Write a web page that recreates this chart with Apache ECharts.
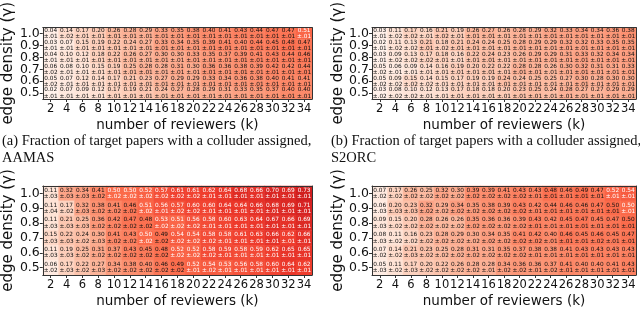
<!DOCTYPE html>
<html>
<head>
<meta charset="utf-8">
<script src="https://cdn.jsdelivr.net/npm/echarts@6/dist/echarts.min.js"></script>
<style>
html,body{margin:0;padding:0;background:#fff;}
#chart{width:640px;height:309px;}
</style>
</head>
<body>
<div id="chart"></div>
<script>
// Tick labels
const kLabels = ['2','4','6','8','10','12','14','16','18','20','22','24','26','28','30','32','34'];
const gammaLabels = ['0.5','0.6','0.7','0.8','0.9','1.0'];
// Rows are listed from gamma = 1.0 (top) down to gamma = 0.5 (bottom)

// (a) AAMAS, target papers with a colluder assigned
const aamasTargetMean = [
  [0.04,0.14,0.17,0.20,0.26,0.28,0.29,0.33,0.35,0.38,0.40,0.41,0.43,0.44,0.47,0.47,0.51],
  [0.03,0.07,0.15,0.19,0.22,0.24,0.27,0.33,0.34,0.35,0.39,0.41,0.40,0.44,0.45,0.48,0.47],
  [0.04,0.10,0.12,0.18,0.22,0.26,0.27,0.30,0.30,0.33,0.35,0.37,0.39,0.41,0.43,0.44,0.46],
  [0.06,0.08,0.10,0.15,0.19,0.25,0.28,0.28,0.31,0.30,0.36,0.36,0.38,0.39,0.42,0.42,0.44],
  [0.05,0.07,0.12,0.14,0.17,0.21,0.23,0.27,0.29,0.29,0.33,0.34,0.36,0.38,0.40,0.41,0.41],
  [0.02,0.07,0.09,0.12,0.17,0.19,0.21,0.24,0.27,0.28,0.29,0.31,0.33,0.35,0.37,0.40,0.40]
];
const aamasTargetErr = [
  [0.01,0.02,0.01,0.01,0.01,0.01,0.01,0.01,0.01,0.01,0.01,0.01,0.01,0.01,0.01,0.01,0.01],
  [0.01,0.01,0.01,0.01,0.01,0.01,0.01,0.01,0.01,0.01,0.01,0.01,0.01,0.01,0.01,0.01,0.01],
  [0.01,0.01,0.01,0.01,0.01,0.01,0.01,0.01,0.01,0.01,0.01,0.01,0.01,0.01,0.01,0.01,0.01],
  [0.02,0.01,0.01,0.01,0.01,0.01,0.01,0.01,0.01,0.01,0.01,0.01,0.01,0.01,0.01,0.01,0.01],
  [0.02,0.01,0.01,0.01,0.01,0.01,0.01,0.01,0.01,0.01,0.01,0.01,0.01,0.01,0.01,0.01,0.01],
  [0.01,0.01,0.01,0.01,0.01,0.01,0.01,0.01,0.01,0.01,0.01,0.01,0.01,0.01,0.01,0.01,0.01]
];

// (b) S2ORC, target papers with a colluder assigned
const s2orcTargetMean = [
  [0.03,0.11,0.17,0.16,0.21,0.19,0.26,0.27,0.26,0.28,0.29,0.32,0.33,0.34,0.34,0.36,0.38],
  [0.02,0.11,0.13,0.21,0.18,0.21,0.24,0.24,0.25,0.28,0.29,0.29,0.32,0.32,0.33,0.35,0.35],
  [0.03,0.09,0.13,0.17,0.18,0.16,0.22,0.24,0.23,0.26,0.29,0.29,0.31,0.33,0.32,0.34,0.34],
  [0.05,0.06,0.09,0.14,0.16,0.19,0.20,0.22,0.22,0.28,0.28,0.26,0.30,0.32,0.31,0.31,0.33],
  [0.05,0.09,0.15,0.14,0.15,0.17,0.19,0.19,0.24,0.24,0.25,0.25,0.27,0.30,0.28,0.30,0.30],
  [0.03,0.08,0.10,0.12,0.13,0.17,0.18,0.18,0.20,0.23,0.25,0.24,0.28,0.27,0.27,0.29,0.29]
];
const s2orcTargetErr = [
  [0.01,0.02,0.02,0.01,0.02,0.01,0.01,0.01,0.01,0.01,0.01,0.01,0.01,0.01,0.01,0.01,0.01],
  [0.01,0.02,0.02,0.01,0.02,0.01,0.01,0.01,0.01,0.01,0.01,0.01,0.01,0.01,0.01,0.01,0.01],
  [0.01,0.02,0.02,0.02,0.01,0.01,0.01,0.01,0.01,0.01,0.01,0.01,0.01,0.01,0.01,0.01,0.01],
  [0.02,0.01,0.01,0.01,0.01,0.01,0.01,0.01,0.01,0.01,0.01,0.01,0.01,0.01,0.01,0.01,0.01],
  [0.02,0.02,0.02,0.02,0.01,0.01,0.01,0.01,0.01,0.01,0.01,0.01,0.01,0.01,0.01,0.01,0.01],
  [0.02,0.02,0.02,0.01,0.01,0.01,0.01,0.01,0.01,0.01,0.01,0.01,0.01,0.01,0.01,0.01,0.01]
];

// (c) AAMAS, second measure
const aamasSecondMean = [
  [0.11,0.32,0.34,0.41,0.50,0.50,0.52,0.57,0.61,0.61,0.62,0.64,0.68,0.66,0.70,0.69,0.73],
  [0.11,0.17,0.32,0.38,0.41,0.46,0.51,0.56,0.57,0.60,0.60,0.64,0.64,0.66,0.68,0.69,0.71],
  [0.11,0.21,0.25,0.36,0.42,0.47,0.48,0.53,0.51,0.56,0.58,0.60,0.63,0.64,0.67,0.66,0.69],
  [0.15,0.22,0.24,0.30,0.41,0.43,0.50,0.49,0.54,0.54,0.58,0.58,0.61,0.63,0.66,0.62,0.66],
  [0.11,0.19,0.25,0.31,0.37,0.43,0.45,0.48,0.52,0.52,0.58,0.59,0.58,0.59,0.62,0.65,0.65],
  [0.06,0.17,0.22,0.27,0.34,0.38,0.40,0.46,0.49,0.52,0.54,0.53,0.56,0.58,0.60,0.64,0.62]
];
const aamasSecondErr = [
  [0.03,0.03,0.03,0.02,0.02,0.02,0.02,0.02,0.02,0.02,0.01,0.01,0.01,0.01,0.01,0.01,0.01],
  [0.04,0.02,0.03,0.02,0.02,0.02,0.02,0.01,0.02,0.02,0.01,0.01,0.01,0.01,0.01,0.01,0.01],
  [0.03,0.03,0.03,0.02,0.02,0.02,0.02,0.02,0.02,0.02,0.01,0.01,0.01,0.01,0.01,0.01,0.01],
  [0.03,0.03,0.02,0.03,0.02,0.02,0.02,0.02,0.02,0.02,0.02,0.01,0.01,0.01,0.01,0.01,0.01],
  [0.03,0.03,0.02,0.02,0.02,0.02,0.02,0.02,0.02,0.02,0.02,0.01,0.01,0.01,0.01,0.01,0.01],
  [0.02,0.03,0.02,0.03,0.02,0.02,0.02,0.02,0.02,0.01,0.02,0.01,0.01,0.01,0.01,0.01,0.01]
];

// (d) S2ORC, second measure
const s2orcSecondMean = [
  [0.07,0.17,0.26,0.25,0.32,0.30,0.39,0.39,0.41,0.43,0.43,0.48,0.46,0.49,0.47,0.52,0.54],
  [0.06,0.20,0.23,0.32,0.29,0.34,0.35,0.38,0.39,0.43,0.42,0.44,0.46,0.46,0.47,0.497,0.503],
  [0.09,0.15,0.20,0.28,0.26,0.26,0.35,0.36,0.36,0.39,0.43,0.42,0.45,0.47,0.45,0.47,0.497],
  [0.08,0.11,0.16,0.23,0.28,0.29,0.30,0.34,0.35,0.41,0.42,0.40,0.46,0.45,0.46,0.45,0.47],
  [0.07,0.14,0.21,0.23,0.25,0.28,0.31,0.31,0.35,0.37,0.38,0.38,0.41,0.43,0.43,0.43,0.43],
  [0.05,0.11,0.17,0.20,0.22,0.26,0.28,0.28,0.34,0.36,0.36,0.37,0.41,0.40,0.40,0.41,0.43]
];
const s2orcSecondErr = [
  [0.02,0.02,0.02,0.02,0.02,0.02,0.02,0.02,0.02,0.02,0.01,0.01,0.01,0.01,0.01,0.01,0.01],
  [0.03,0.03,0.03,0.02,0.02,0.02,0.02,0.02,0.02,0.02,0.01,0.01,0.01,0.01,0.01,0.01,0.01],
  [0.03,0.02,0.02,0.02,0.02,0.02,0.02,0.02,0.02,0.02,0.01,0.01,0.01,0.01,0.01,0.01,0.01],
  [0.03,0.02,0.02,0.02,0.02,0.02,0.02,0.02,0.02,0.02,0.02,0.01,0.01,0.01,0.02,0.01,0.01],
  [0.02,0.02,0.03,0.02,0.02,0.02,0.02,0.02,0.02,0.02,0.01,0.01,0.01,0.01,0.01,0.01,0.01],
  [0.03,0.02,0.03,0.02,0.02,0.02,0.02,0.01,0.02,0.02,0.01,0.02,0.01,0.01,0.01,0.01,0.01]
];

const captionA = '(a) Fraction of target papers with a colluder assigned,\nAAMAS';
const captionB = '(b) Fraction of target papers with a colluder assigned,\nS2ORC';
const xTitle = 'number of reviewers (k)';
const yTitle = 'edge density (\u03b3)';

const panels = [
  {mean: aamasTargetMean, err: aamasTargetErr},
  {mean: s2orcTargetMean, err: s2orcTargetErr},
  {mean: aamasSecondMean, err: aamasSecondErr},
  {mean: s2orcSecondMean, err: s2orcSecondErr}
];

const grids = [
  {left: 41, top: 6, width: 271, height: 93},
  {left: 372, top: 6, width: 264, height: 93},
  {left: 41, top: 186, width: 271, height: 94},
  {left: 372, top: 186, width: 264, height: 94}
];

const SANS = 'DejaVu Sans';
const xAxes = [], yAxes = [], series = [];
panels.forEach((p, i) => {
  xAxes.push({
    type: 'category', gridIndex: i, data: kLabels, position: 'bottom', z: 10,
    axisLine: {show: true, lineStyle: {color: '#333', width: 1}},
    axisTick: {show: true, alignWithLabel: true, length: 3, lineStyle: {color: '#333'}},
    axisLabel: {color: '#111', fontFamily: SANS, fontSize: 11.5, margin: 4, interval: 0},
    splitLine: {show: false},
    name: xTitle, nameLocation: 'middle', nameGap: 19,
    nameTextStyle: {color: '#111', fontFamily: SANS, fontSize: 13.5}
  });
  xAxes.push({
    type: 'category', gridIndex: i, data: kLabels, position: 'top', z: 10,
    axisLine: {show: true, lineStyle: {color: '#333', width: 1}},
    axisTick: {show: false}, axisLabel: {show: false}, splitLine: {show: false}
  });
  yAxes.push({
    type: 'category', gridIndex: i, data: gammaLabels, position: 'left', z: 10,
    axisLine: {show: true, lineStyle: {color: '#333', width: 1}},
    axisTick: {show: true, alignWithLabel: true, length: 3, lineStyle: {color: '#333'}},
    axisLabel: {color: '#111', fontFamily: SANS, fontSize: 12.5, margin: 3, interval: 0},
    splitLine: {show: false},
    name: yTitle, nameLocation: 'middle', nameGap: 21, nameRotate: 90,
    nameTextStyle: {color: '#111', fontFamily: SANS, fontSize: 15}
  });
  yAxes.push({
    type: 'category', gridIndex: i, data: gammaLabels, position: 'right', z: 10,
    axisLine: {show: true, lineStyle: {color: '#333', width: 1}},
    axisTick: {show: false}, axisLabel: {show: false}, splitLine: {show: false}
  });
  const data = [];
  const nRows = p.mean.length;
  p.mean.forEach((row, r) => {
    row.forEach((v, c) => {
      data.push([c, nRows - 1 - r, v, p.err[r][c]]);
    });
  });
  series.push({
    type: 'heatmap',
    xAxisIndex: i * 2, yAxisIndex: i * 2,
    data: data,
    itemStyle: {borderWidth: 0},
    emphasis: {disabled: true},
    label: {
      show: true,
      fontFamily: SANS, fontSize: 5.8, lineHeight: 6.3,
      formatter: (prm) => {
        const v = prm.data[2], e = prm.data[3];
        const tag = v >= 0.5 ? 'w' : 'k';
        return '{' + tag + '|' + v.toFixed(2) + '}\n{' + tag + '|\u00b1' + e.toFixed(2).slice(1) + '}';
      },
      rich: {
        w: {color: '#ffffff', fontFamily: SANS, fontSize: 5.8, lineHeight: 6.3},
        k: {color: '#111111', fontFamily: SANS, fontSize: 5.8, lineHeight: 6.3}
      }
    }
  });
});

const chart = echarts.init(document.getElementById('chart'), null, {renderer: 'canvas'});
chart.setOption({
  backgroundColor: '#ffffff',
  animation: false,
  title: [
    {text: captionA, left: 2, top: 133, padding: 0,
     textStyle: {fontFamily: 'Liberation Serif', fontWeight: 'normal', fontSize: 14.5, lineHeight: 17, color: '#111'}},
    {text: captionB, left: 331, top: 133, padding: 0,
     textStyle: {fontFamily: 'Liberation Serif', fontWeight: 'normal', fontSize: 14.5, lineHeight: 17, color: '#111'}}
  ],
  grid: grids,
  xAxis: xAxes,
  yAxis: yAxes,
  visualMap: {
    show: false, type: 'continuous', min: 0, max: 1, dimension: 2,
    seriesIndex: [0, 1, 2, 3],
    inRange: {color: ['#fff5f0','#fee0d2','#fcbba1','#fc9272','#fb6a4a','#ef3b2c','#cb181d','#a50f15','#67000d']}
  },
  series: series
});
</script>
</body>
</html>
